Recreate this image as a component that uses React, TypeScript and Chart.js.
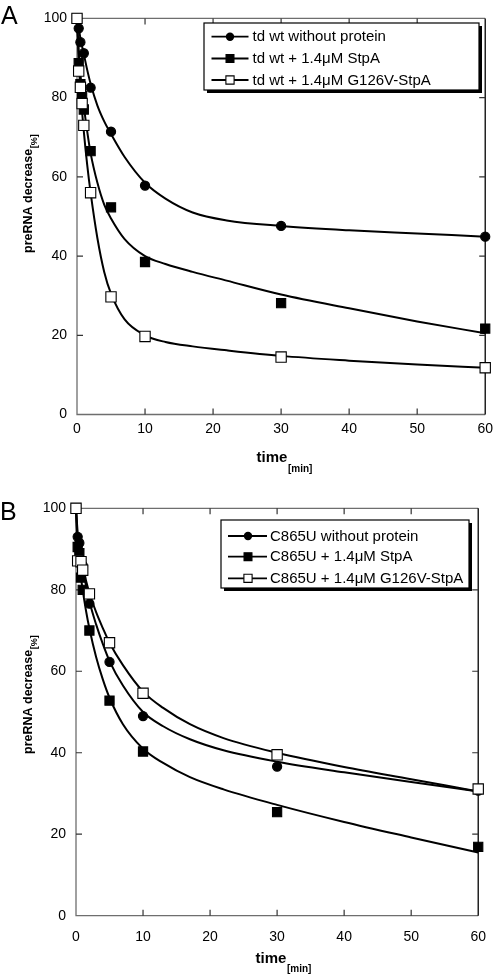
import React, { useEffect, useRef } from "react";
import { Chart, registerables } from "chart.js";
Chart.register(...registerables);

// ---------- data ----------
const pointTimes = [0, 0.25, 0.5, 0.75, 1, 2, 5, 10, 30, 60];
const fitTimes = [0, 0.25, 0.5, 1, 1.5, 2, 3, 4, 5, 7, 10, 13, 17, 22, 30, 40, 50, 60];
const xTickValues = [0, 10, 20, 30, 40, 50, 60];
const yTickValues = [0, 20, 40, 60, 80, 100];

// Panel A
const labelsA = ["td wt without protein", "td wt + 1.4μM StpA", "td wt + 1.4μM G126V-StpA"];
const pointsA_none = [100, 97.5, 94, null, 91.2, 82.5, 71.4, 57.8, 47.6, 44.9];
const pointsA_stpa = [100, 88.7, 83.4, 80.4, 77, 66.5, 52.3, 38.5, 28.1, 21.7];
const pointsA_g126v = [100, 86.7, 82.6, 78.5, 73, 56, 29.7, 19.7, 14.5, 11.8];
const fitA_none = [100, 97.6, 95, 91, 87, 83.5, 78, 74, 70.8, 65, 58.5, 54.5, 51, 49, 47.6, 46.5, 45.7, 44.9];
const fitA_stpa = [100, 92, 86, 78, 71.5, 66, 58.5, 53, 49.5, 44.3, 40, 38, 36, 33.8, 30.3, 26.8, 23.5, 20.5];
const fitA_g126v = [100, 89, 82, 71.5, 63, 56, 44.5, 36, 30.5, 24, 20, 18.3, 17.2, 16.2, 14.8, 13.6, 12.6, 11.8];

// Panel B
const labelsB = ["C865U without protein", "C865U + 1.4μM StpA", "C865U + 1.4μM G126V-StpA"];
const pointsB_none = [100, 93, 91.5, null, 86, 76.6, 62.3, 49, 36.6, 30.7];
const pointsB_stpa = [100, 90.5, 89, 83, 80, 70, 52.8, 40.3, 25.4, 16.9];
const pointsB_g126v = [100, 87.1, null, 86.9, 84.8, 79, 67, 54.6, 39.5, 31.1];
const fitB_none = [100, 94, 90.5, 85.5, 81, 77.2, 71.5, 66.7, 62.5, 56.5, 50, 46.5, 43.3, 40.6, 37.8, 35.2, 32.8, 30.5];
const fitB_stpa = [100, 90.5, 86, 80, 74.8, 70.5, 63.5, 58, 53.5, 47, 41, 37.5, 34, 31, 27.2, 23, 19.2, 15.5];
const fitB_g126v = [100, 92, 89.3, 85.8, 82.2, 79.2, 74.5, 70.6, 67, 61.5, 55, 51, 47, 43.6, 40, 36.5, 33.5, 30.5];

const FONT = "'Liberation Sans', Arial, Helvetica, sans-serif";

const markerStyles = [
  { pointStyle: "circle", radius: 4.6, bg: "#000", legendR: 4.2, order: 2 },
  { pointStyle: "rect", radius: 6.5, bg: "#000", legendR: 5.6, order: 1 },
  { pointStyle: "rect", radius: 7.3, bg: "#fff", legendR: 5.8, order: 0 },
];

type PanelSpec = {
  letter: string;
  width: number;
  height: number;
  area: { left: number; right: number; top: number; bottom: number };
  xLabelPad: number;
  labels: string[];
  points: (number | null)[][];
  fits: number[][];
  legend: { x: number; y: number; w: number; h: number; rows: number[]; lineX0: number; lineX1: number; markX: number; textX: number };
  xTitle: { x: number; y: number; subX: number; subY: number };
  yTitle: { x: number; yStart: number };
  letterPos: { x: number; y: number };
};

function drawMarker(ctx: CanvasRenderingContext2D, style: number, x: number, y: number, r: number) {
  ctx.beginPath();
  if (style === 0) {
    ctx.arc(x, y, r, 0, Math.PI * 2);
    ctx.fillStyle = "#000";
    ctx.fill();
  } else {
    ctx.rect(x - r * Math.SQRT1_2, y - r * Math.SQRT1_2, r * Math.SQRT2, r * Math.SQRT2);
    ctx.fillStyle = style === 1 ? "#000" : "#fff";
    ctx.fill();
    ctx.lineWidth = 1.1;
    ctx.strokeStyle = "#000";
    ctx.stroke();
  }
}

function makeDecor(spec: PanelSpec) {
  return {
    id: "decor" + spec.letter,
    beforeDatasetsDraw(chart: any) {
      const ctx = chart.ctx as CanvasRenderingContext2D;
      const { left, right, top, bottom } = chart.chartArea;
      const xs = chart.scales.x;
      const ys = chart.scales.y;
      ctx.save();
      ctx.lineWidth = 1.3;
      ctx.strokeStyle = "#6e6e6e";
      ctx.beginPath();
      ctx.moveTo(left, top);
      ctx.lineTo(left, bottom);
      ctx.lineTo(right, bottom);
      ctx.moveTo(left, top);
      ctx.lineTo(right, top);
      ctx.stroke();
      ctx.strokeStyle = "#000";
      ctx.beginPath();
      ctx.moveTo(right, top);
      ctx.lineTo(right, bottom);
      ctx.stroke();
      // inward ticks
      const tl = 6;
      ctx.strokeStyle = "#333";
      ctx.lineWidth = 1.2;
      ctx.beginPath();
      xs.ticks.forEach((t: any) => {
        const px = xs.getPixelForValue(t.value);
        if (px <= left + 1 || px >= right - 1) return;
        ctx.moveTo(px, bottom);
        ctx.lineTo(px, bottom - tl);
        ctx.moveTo(px, top);
        ctx.lineTo(px, top + tl);
      });
      ys.ticks.forEach((t: any) => {
        const py = ys.getPixelForValue(t.value);
        if (py <= top + 1 || py >= bottom - 1) return;
        ctx.moveTo(left, py);
        ctx.lineTo(left + tl, py);
        ctx.moveTo(right, py);
        ctx.lineTo(right - tl, py);
      });
      ctx.stroke();
      ctx.restore();
    },
    afterDraw(chart: any) {
      const ctx = chart.ctx as CanvasRenderingContext2D;
      ctx.save();
      // panel letter
      ctx.fillStyle = "#000";
      ctx.font = `25px ${FONT}`;
      ctx.textAlign = "left";
      ctx.textBaseline = "alphabetic";
      ctx.fillText(spec.letter, spec.letterPos.x, spec.letterPos.y);

      // x title
      ctx.font = `bold 15px ${FONT}`;
      ctx.textAlign = "center";
      ctx.textBaseline = "middle";
      ctx.fillText("time", spec.xTitle.x, spec.xTitle.y);
      ctx.font = `bold 10px ${FONT}`;
      ctx.textAlign = "left";
      ctx.fillText("[min]", spec.xTitle.subX, spec.xTitle.subY);

      // y title
      ctx.save();
      ctx.translate(spec.yTitle.x, spec.yTitle.yStart);
      ctx.rotate(-Math.PI / 2);
      ctx.font = `bold 12.5px ${FONT}`;
      ctx.textAlign = "left";
      ctx.textBaseline = "middle";
      const main = "preRNA decrease";
      ctx.fillText(main, 0, 0);
      const w = ctx.measureText(main).width;
      ctx.font = `bold 9px ${FONT}`;
      ctx.fillText("[%]", w + 0.5, 6);
      ctx.restore();

      // legend
      const L = spec.legend;
      ctx.fillStyle = "#000";
      ctx.fillRect(L.x + 3, L.y + 3, L.w, L.h);
      ctx.fillStyle = "#fff";
      ctx.fillRect(L.x, L.y, L.w, L.h);
      ctx.strokeStyle = "#000";
      ctx.lineWidth = 1.2;
      ctx.strokeRect(L.x, L.y, L.w, L.h);
      const dsets = chart.data.datasets.filter((d: any) => d.isMarker);
      dsets.forEach((d: any, i: number) => {
        const y = L.rows[i];
        ctx.strokeStyle = "#000";
        ctx.lineWidth = 1.8;
        ctx.beginPath();
        ctx.moveTo(L.lineX0, y);
        ctx.lineTo(L.lineX1, y);
        ctx.stroke();
        drawMarker(ctx, i, L.markX, y, markerStyles[i].legendR);
        ctx.fillStyle = "#000";
        ctx.font = `15px ${FONT}`;
        ctx.textAlign = "left";
        ctx.textBaseline = "middle";
        ctx.fillText(d.label, L.textX, y + 0.5);
      });
      ctx.restore();
    },
  };
}

function buildConfig(spec: PanelSpec): any {
  const datasets: any[] = [];
  spec.fits.forEach((vals, i) => {
    datasets.push({
      label: spec.labels[i] + " fit",
      data: fitTimes.map((t, j) => ({ x: t, y: vals[j] })),
      borderColor: "#000",
      borderWidth: 2,
      pointRadius: 0,
      cubicInterpolationMode: "monotone",
      fill: false,
      order: 10,
      clip: false,
    });
  });
  spec.points.forEach((vals, i) => {
    const st = markerStyles[i];
    datasets.push({
      label: spec.labels[i],
      isMarker: true,
      data: pointTimes
        .map((t, j) => (vals[j] == null ? null : { x: t, y: vals[j] }))
        .filter((p) => p !== null),
      showLine: false,
      pointStyle: st.pointStyle,
      pointRadius: st.radius,
      pointBackgroundColor: st.bg,
      pointBorderColor: "#000",
      pointBorderWidth: 1.1,
      order: st.order,
      clip: false,
    });
  });
  const A = spec.area;
  return {
    type: "line",
    data: { datasets },
    options: {
      responsive: false,
      animation: false,
      devicePixelRatio: 1,
      events: [],
      layout: { padding: { top: A.top, right: spec.width - A.right, left: 0, bottom: 0 } },
      plugins: { legend: { display: false }, tooltip: { enabled: false }, title: { display: false } },
      scales: {
        x: {
          type: "linear",
          min: 0,
          max: 60,
          afterBuildTicks: (s: any) => {
            s.ticks = xTickValues.map((v) => ({ value: v }));
          },
          afterFit: (s: any) => {
            s.height = spec.height - A.bottom;
          },
          grid: { display: false, drawTicks: false },
          border: { display: false },
          ticks: { color: "#000", font: { family: FONT, size: 14 }, padding: spec.xLabelPad, maxRotation: 0, autoSkip: false },
        },
        y: {
          type: "linear",
          min: 0,
          max: 100,
          afterBuildTicks: (s: any) => {
            s.ticks = yTickValues.map((v) => ({ value: v }));
          },
          afterFit: (s: any) => {
            s.width = A.left;
          },
          grid: { display: false, drawTicks: false },
          border: { display: false },
          ticks: { color: "#000", font: { family: FONT, size: 14 }, padding: 10 },
        },
      },
    },
    plugins: [makeDecor(spec)],
  };
}

const specA: PanelSpec = {
  letter: "A",
  width: 499,
  height: 480,
  area: { left: 77, right: 488.5, top: 8.3, bottom: 414.5 },
  xLabelPad: 6,
  labels: labelsA,
  points: [pointsA_none, pointsA_stpa, pointsA_g126v],
  fits: [fitA_none, fitA_stpa, fitA_g126v],
  legend: { x: 204, y: 23, w: 275, h: 67, rows: [36.7, 58.5, 80], lineX0: 211.5, lineX1: 248.5, markX: 230, textX: 252.5 },
  xTitle: { x: 272, y: 458, subX: 288, subY: 469 },
  yTitle: { x: 29, yStart: 253 },
  letterPos: { x: 1, y: 24 },
};

const specB: PanelSpec = {
  letter: "B",
  width: 499,
  height: 495,
  area: { left: 76, right: 487.5, top: 28.3, bottom: 435.7 },
  xLabelPad: 13,
  labels: labelsB,
  points: [pointsB_none, pointsB_stpa, pointsB_g126v],
  fits: [fitB_none, fitB_stpa, fitB_g126v],
  legend: { x: 221, y: 40, w: 248, h: 68, rows: [56, 76.7, 98.3], lineX0: 228, lineX1: 267, markX: 248, textX: 270 },
  xTitle: { x: 271, y: 479, subX: 287, subY: 489 },
  yTitle: { x: 29, yStart: 274 },
  letterPos: { x: 0, y: 40 },
};

function Panel({ spec, top }: { spec: PanelSpec; top: number }) {
  const ref = useRef<HTMLCanvasElement | null>(null);
  useEffect(() => {
    if (!ref.current) return;
    const chart = new Chart(ref.current, buildConfig(spec));
    return () => chart.destroy();
  }, [spec]);
  return (
    <canvas
      ref={ref}
      width={spec.width}
      height={spec.height}
      style={{ position: "absolute", left: 0, top, width: spec.width, height: spec.height, display: "block" }}
    />
  );
}

export default function App() {
  return (
    <div style={{ position: "absolute", left: 0, top: 0, width: 499, height: 975, background: "#fff", overflow: "hidden" }}>
      <Panel spec={specA} top={0} />
      <Panel spec={specB} top={480} />
    </div>
  );
}
